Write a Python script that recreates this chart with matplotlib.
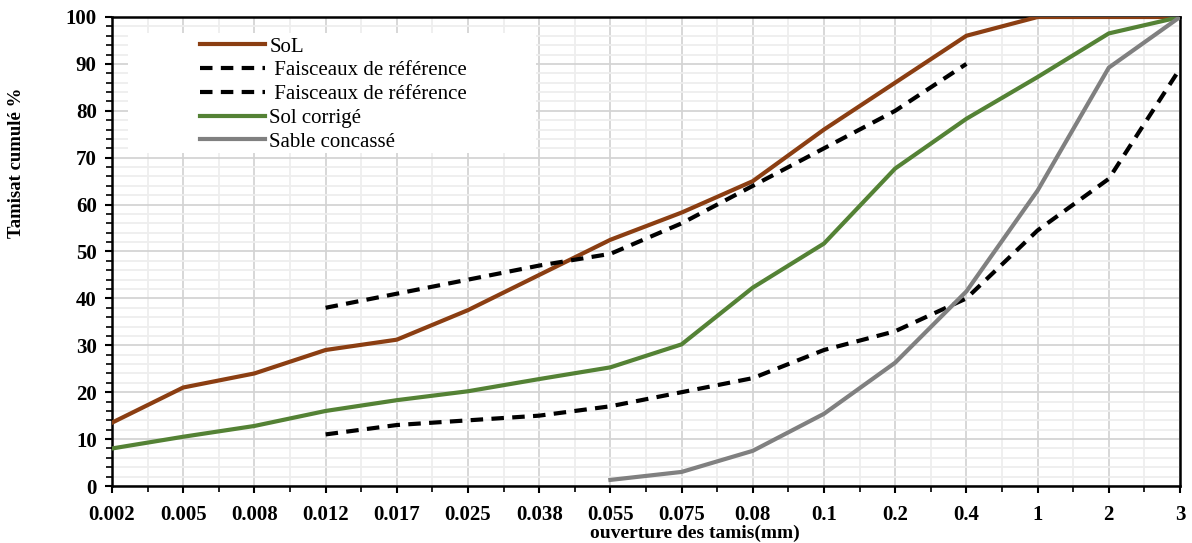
import numpy as np
import matplotlib
matplotlib.use("Agg")
import matplotlib.pyplot as plt
from matplotlib.patches import Rectangle
from matplotlib.ticker import MultipleLocator, FixedLocator

nan = np.nan

# sieve openings (mm), plotted as equally spaced categories
sieves = ["0.002", "0.005", "0.008", "0.012", "0.017", "0.025", "0.038", "0.055",
          "0.075", "0.08", "0.1", "0.2", "0.4", "1", "2", "3"]

sol = [13.5, 21, 24, 29, 31.2, 37.5, 45, 52.5, 58.3, 65, 76, 86, 96, 100, 100, 100]
fais_haut = [nan, nan, nan, 38, 41, 44, 47, 49.5, 56, 64, 72, 80, 90, nan, nan, nan]
fais_bas = [nan, nan, nan, 11, 13, 14, 15, 17, 20, 23, 29, 33, 40, 54.5, 65.5, 89]
sol_corrige = [8, 10.5, 12.8, 16, 18.3, 20.2, 22.8, 25.3, 30.2, 42.3, 51.7, 67.7, 78.3, 87.2, 96.5, 100]
sable = [nan, nan, nan, nan, nan, nan, nan, 1.3, 3, 7.5, 15.4, 26.3, 41.5, 63, 89.2, 100]

plt.rcParams['font.family'] = ['Liberation Serif', 'DejaVu Serif']

fig = plt.figure(figsize=(11.92, 5.43), dpi=100)
ax = fig.add_axes([112 / 1192, 1 - 486 / 543, 1068 / 1192, 469 / 543])

x = np.arange(len(sieves))

ax.plot(x, sol, color='#8B3E12', lw=3, label='SoL', zorder=3)
ax.plot(x, fais_haut, color='black', lw=3, ls=(0, (3, 2)), label=' Faisceaux de référence', zorder=3)
ax.plot(x, fais_bas, color='black', lw=3, ls=(0, (3, 2)), label=' Faisceaux de référence', zorder=3)
ax.plot(x, sol_corrige, color='#548235', lw=3, label='Sol corrigé', zorder=3)
ax.plot(x, sable, color='#808080', lw=3, label='Sable concassé', zorder=3)

ax.set_xlim(0, len(sieves) - 1)
ax.set_ylim(0, 100)
ax.set_xticks(x)
ax.set_xticklabels(sieves, fontweight='bold', fontsize=15)
ax.xaxis.set_minor_locator(FixedLocator(x[:-1] + 0.5))
ax.yaxis.set_major_locator(MultipleLocator(10))
ax.yaxis.set_minor_locator(MultipleLocator(2))
for lab in ax.get_yticklabels():
    lab.set_fontweight('bold')
    lab.set_fontsize(15)

ax.tick_params(which='major', direction='out', length=5, width=1.5, pad=6)
ax.tick_params(which='minor', direction='out', length=4, width=1.2)
ax.tick_params(axis='x', which='major', pad=9)

ax.grid(which='major', color='#d4d4d4', lw=1.3, zorder=0)
ax.grid(which='minor', color='#eeeeee', lw=1.3, zorder=0)
ax.set_axisbelow(True)

for side in ['left', 'bottom', 'right', 'top']:
    ax.spines[side].set_color('black')
    ax.spines[side].set_linewidth(1.8)

ax.set_ylabel('Tamisat cumulé %', fontweight='bold', fontsize=13.5)
ax.yaxis.set_label_coords(-0.081, 0.69)
ax.set_xlabel('ouverture des tamis(mm)', fontweight='bold', fontsize=14)
ax.xaxis.set_label_coords(0.546, -0.082)

# white area behind the legend
ax.add_patch(Rectangle((0.015, 0.71), 0.382, 0.256, transform=ax.transAxes,
                       facecolor='white', edgecolor='none', zorder=1))
leg = ax.legend(loc='upper left', bbox_to_anchor=(0.075, 0.975), frameon=False,
                fontsize=15, handlelength=3.1, labelspacing=0.2, handletextpad=0.2,
                borderaxespad=0)
leg.set_zorder(4)

fig.savefig('out.png', dpi=100)
